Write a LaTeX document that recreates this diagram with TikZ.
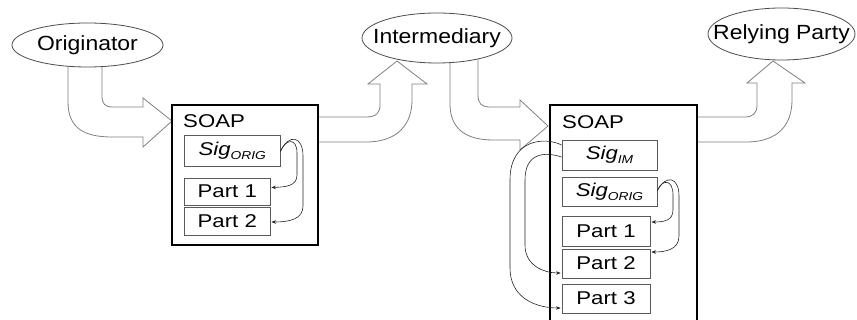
\documentclass[tikz,border=0pt]{standalone}
\usepackage{fontspec}
\setmainfont{Liberation Sans}
\usetikzlibrary{arrows.meta,calc,shapes.geometric}
% text is set slightly wide throughout
\newcommand{\wtext}[2][1.2]{\scalebox{#1}[1]{#2}}
\newcommand{\sigtext}[1]{\wtext{\itshape Sig\raisebox{-4pt}{\fontsize{11.5}{12}\selectfont #1}}}
\begin{document}
\begin{tikzpicture}[x=1pt,y=-1pt,
  party/.style={draw=black!70, line width=0.8pt, fill=white, ellipse, inner sep=0pt},
  partyname/.style={font=\fontsize{20.5}{22}\selectfont, inner sep=0pt},
  soapbox/.style={draw=black, line width=1.8pt, fill=white, inner sep=0pt},
  part/.style={draw=black!65, line width=0.8pt, fill=white, inner sep=0pt,
    font=\fontsize{18.5}{20}\selectfont},
  soaplabel/.style={anchor=west, inner sep=0pt, font=\fontsize{18.5}{20}\selectfont},
  fat/.style={draw=black!50, line width=0.8pt, fill=white, line join=miter},
  link/.style={draw=black!85, line width=0.6pt,
    -{Stealth[length=4.5pt,width=3.5pt]}}]
\useasboundingbox (0,0) rectangle (857,320);
\clip (0,0) rectangle (857,320);

% wide hollow arrows between the parties and the messages
\path[fat] (68,60) -- (68,102) .. controls (68,128) and (84,137) .. (112,137)
  -- (143,137) -- (143,147) -- (172,121) -- (143,98) -- (143,107) -- (113,107)
  .. controls (105,107) and (102,104) .. (102,96) -- (102,60) -- cycle;
\path[fat] (318,142) -- (366,142) .. controls (398,142) and (412,124) .. (412,100)
  -- (412,84) -- (427,84) -- (397,61) -- (368,84) -- (380,84) -- (380,105)
  .. controls (380,113) and (376,117) .. (366,117) -- (318,117) -- cycle;
\path[fat] (450,55) -- (450,104) .. controls (450,128) and (465,140) .. (493,140)
  -- (520,140) -- (520,150) -- (548,126) -- (520,100) -- (520,107) -- (490,107)
  .. controls (481,107) and (478,103) .. (478,95) -- (478,55) -- cycle;
\path[fat] (697,142) -- (746,142) .. controls (778,142) and (792,125) .. (792,100)
  -- (792,83) -- (805,83) -- (773,61) -- (747,83) -- (757,83) -- (757,105)
  .. controls (757,113) and (753,117) .. (745,117) -- (697,117) -- cycle;

% parties
\node[party, minimum width=151, minimum height=44,
  label={[partyname]center:\wtext[1.12]{Originator}}] (orig) at (87.5,45) {};
\node[party, minimum width=150, minimum height=50,
  label={[partyname]center:\wtext[1.12]{Intermediary}}] (inter) at (437,38) {};
\node[party, minimum width=147, minimum height=52,
  label={[partyname]center:\wtext[1.12]{Relying Party}}] (rely) at (781.5,34) {};

% message signed by the originator
\node[soapbox, minimum width=146, minimum height=140] (msgA) at (245,175) {};
\node[soaplabel] (msgA-l) at (183,121.5) {\wtext{SOAP}};
\node[part, minimum width=95.5, minimum height=31] (a-sig) at (232.25,150.5) {\sigtext{ORIG}};
\node[part, minimum width=85.5, minimum height=27] (a-p1) at (227.25,191.5) {\wtext{Part 1}};
\node[part, minimum width=85.5, minimum height=28] (a-p2) at (227.25,221) {\wtext{Part 2}};

\draw[link] ($(a-sig.east)+(0,1)$) .. controls (286,138) and (297,138) .. (297,153)
  -- (297,175) .. controls (297,186) and (286,187) .. ($(a-p1.east)+(1,-4)$);
\draw[link] ($(a-sig.east)+(0,1)$) .. controls (289,133) and (303,136) .. (303,156)
  -- (303,206) .. controls (303,219) and (290,222) .. ($(a-p2.east)+(1,1)$);

% message countersigned by the intermediary
\node[soapbox, minimum width=147, minimum height=225] (msgB) at (623.5,217.5) {};
\node[soaplabel] (msgB-l) at (562,122) {\wtext{SOAP}};
\node[part, minimum width=95, minimum height=30] (b-sig-im) at (609.5,155) {\sigtext{IM}};
\node[part, minimum width=95, minimum height=29] (b-sig-or) at (609.5,191.5) {\sigtext{ORIG}};
\node[part, minimum width=88, minimum height=30] (b-p1) at (606,231) {\wtext{Part 1}};
\node[part, minimum width=88, minimum height=29] (b-p2) at (606,263.5) {\wtext{Part 2}};
\node[part, minimum width=88, minimum height=29] (b-p3) at (606,298.5) {\wtext{Part 3}};

\draw[link] ($(b-sig-or.east)+(0,-1)$) .. controls (663,178) and (673,180) .. (673,195)
  -- (673,210) .. controls (673,221) and (663,222) .. ($(b-p1.east)+(1,-9)$);
\draw[link] ($(b-sig-or.east)+(0,-1)$) .. controls (666,174) and (679,177) .. (679,196)
  -- (679,236) .. controls (679,250) and (665,252) .. ($(b-p2.east)+(1,-11.5)$);
\draw[link] ($(b-sig-im.west)+(0,-10)$) .. controls (546,137) and (510,138) .. (510,180)
  -- (510,268) .. controls (510,298) and (536,308) .. ($(b-p3.west)+(-1,9.5)$);
\draw[link] ($(b-sig-im.west)+(0,2)$) .. controls (543,151) and (525,154) .. (525,180)
  -- (525,245) .. controls (525,265) and (543,273) .. ($(b-p2.west)+(-1,9.5)$);
\end{tikzpicture}
\end{document}
